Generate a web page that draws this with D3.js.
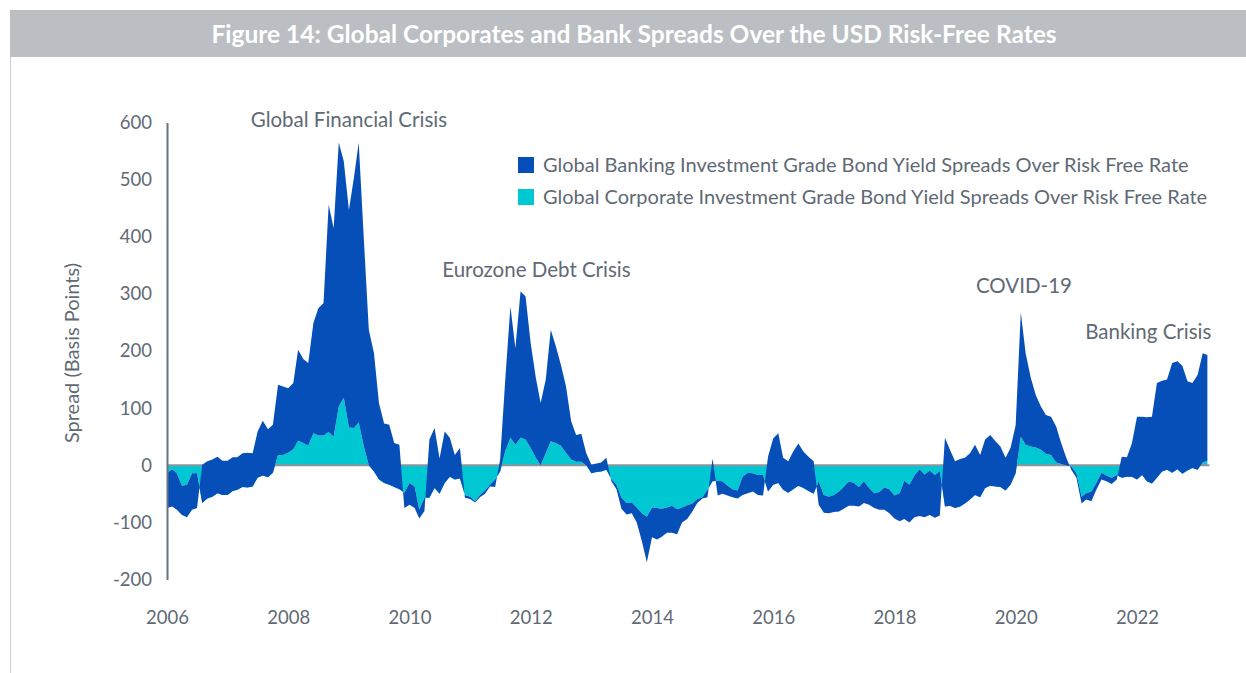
<!DOCTYPE html>
<html>
<head>
<meta charset="utf-8">
<script src="https://cdn.jsdelivr.net/npm/d3@7"></script>
<style>
  body { margin: 0; background: #fff; }
  text { font-family: Lato, "Noto Sans", sans-serif; }
</style>
</head>
<body>
<script>
// monthly observations, Jan 2006 .. Mar 2023
var startDate = new Date(2006, 0, 1);

// Global corporate IG spread over risk-free (bp)
var corpSpread = [
  -14, -7, -14, -36, -34, -14, -14, -66, -58, -55, -49, -52,   // 2006
  -52, -45, -43, -38, -39, -37, -22, -18, -21, -13, 18, 18,     // 2007
  22, 28, 43, 39, 34, 56, 52, 52, 58, 50, 103, 118,             // 2008
  66, 65, 75, 33, 0, -11, -25, -31, -34, -38, -42, -48,         // 2009
  -31, -37, -78, -57, -57, -40, -50, -31, -20, -25, -23, -52,   // 2010
  -55, -63, -52, -44, -34, -25, -11, 25, 48, 36, 48, 45,        // 2011
  30, 13, 0, 21, 42, 39, 34, 22, 10, 6, 6, 0,                   // 2012
  -14, -12, -11, -8, -24, -34, -57, -66, -65, -74, -84, -90,    // 2013
  -74, -75, -76, -74, -71, -77, -74, -70, -67, -59, -56, -43,   // 2014
  -28, -27, -28, -36, -42, -44, -20, -13, -14, -17, -17, -46,   // 2015
  -34, -31, -43, -48, -42, -36, -40, -45, -50, -28, -52, -55,   // 2016
  -52, -46, -38, -28, -31, -38, -28, -40, -49, -47, -39, -42,   // 2017
  -53, -49, -27, -34, -18, -7, -16, -9, -17, -10, -72, -71,     // 2018
  -75, -72, -67, -60, -52, -56, -40, -36, -37, -38, -44, -34,   // 2019
  -14, 50, 36, 33, 31, 27, 20, 18, 5, 2, 0, -2,                 // 2020
  -14, -55, -49, -46, -31, -13, -18, -22, -17, -22, -20, -20,   // 2021
  -25, -17, -28, -32, -22, -11, -8, -13, -7, -15, -9, -5,       // 2022
  -8, 5, 8                                                      // 2023
];

// Global banking IG spread over risk-free (bp)
var bankSpread = [
  -75, -72, -78, -87, -91, -78, -75, 1, 7, 10, 15, 8,
  8, 14, 14, 21, 22, 21, 59, 78, 63, 71, 141, 138,
  135, 144, 202, 186, 179, 249, 275, 284, 456, 415, 565, 532,
  447, 505, 565, 395, 237, 196, 109, 73, 71, 39, 36, -75,
  -69, -75, -93, -80, 45, 65, 12, 59, 48, 18, 30, -57,
  -59, -65, -56, -50, -37, -38, 10, 150, 278, 205, 304, 296,
  214, 153, 109, 150, 237, 208, 176, 138, 77, 53, 55, 21,
  1, 3, 5, 13, -28, -42, -76, -86, -84, -100, -133, -170,
  -126, -130, -125, -118, -118, -121, -100, -94, -81, -66, -58, -56,
  12, -53, -50, -53, -56, -58, -52, -49, -46, -52, -53, 15,
  47, 56, 13, 7, 24, 38, 24, 15, 7, -69, -83, -84,
  -82, -81, -76, -71, -71, -72, -66, -69, -75, -78, -78, -84,
  -93, -98, -94, -100, -91, -89, -91, -87, -92, -88, 48, 27,
  7, 11, 13, 21, 36, 18, 45, 53, 42, 33, 13, 30,
  70, 268, 196, 153, 123, 103, 88, 85, 68, 39, 13, -8,
  -22, -67, -60, -63, -43, -25, -28, -33, -25, 15, 14, 38,
  85, 85, 84, 85, 144, 148, 150, 179, 182, 174, 147, 144,
  158, 196, 193
];

var yTicks = [-200, -100, 0, 100, 200, 300, 400, 500, 600];
var xTickYears = [2006, 2008, 2010, 2012, 2014, 2016, 2018, 2020, 2022];

var legendLabels = [
  "Global Banking Investment Grade Bond Yield Spreads Over Risk Free Rate",
  "Global Corporate Investment Grade Bond Yield Spreads Over Risk Free Rate"
];
var legendColors = ["#074fb8", "#00c8d3"];

var eventNames = ["Global Financial Crisis", "Eurozone Debt Crisis", "COVID-19", "Banking Crisis"];
var eventDates = [new Date(2009, 0, 1), new Date(2012, 1, 5), new Date(2020, 1, 20), new Date(2022, 2, 10)];
var eventLevels = [604, 342, 314, 233];

var titleText = "Figure 14: Global Corporates and Bank Spreads Over the USD Risk-Free Rates";

var width = 1246, height = 673;
var textColor = "#5f6a74";

var svg = d3.select("body").append("svg")
  .attr("width", width)
  .attr("height", height);

// title bar + frame line
svg.append("rect")
  .attr("x", 10).attr("y", 10)
  .attr("width", width - 10).attr("height", 47)
  .attr("fill", "#bbbec3");
svg.append("line")
  .attr("x1", 10.5).attr("x2", 10.5)
  .attr("y1", 57).attr("y2", height)
  .attr("stroke", "#c9cbcf").attr("stroke-width", 1);
svg.append("text")
  .attr("x", 634).attr("y", 34)
  .attr("dy", "0.35em")
  .attr("text-anchor", "middle")
  .attr("fill", "#fff")
  .style("font-size", "24.5px")
  .style("font-weight", "bold")
  .text(titleText);

var x = d3.scaleTime()
  .domain([new Date(2006, 0, 1), new Date(2022, 0, 1)])
  .range([167, 1137]);
var y = d3.scaleLinear()
  .domain([-200, 600])
  .range([579.5, 122.5]);

var data = corpSpread.map(function (c, i) {
  return { date: d3.timeMonth.offset(startDate, i), corp: c, bank: bankSpread[i] };
});

// corporate spread: area from zero
var corpArea = d3.area()
  .x(function (d) { return x(d.date); })
  .y0(y(0))
  .y1(function (d) { return y(d.corp); });

// banking spread: band between the corporate and banking lines
var bankArea = d3.area()
  .x(function (d) { return x(d.date); })
  .y0(function (d) { return y(d.corp); })
  .y1(function (d) { return y(d.bank); });

svg.append("path")
  .datum(data)
  .attr("d", corpArea)
  .attr("fill", legendColors[1]);

svg.append("line")
  .attr("x1", x(startDate))
  .attr("x2", x(data[data.length - 1].date) + 2)
  .attr("y1", y(0)).attr("y2", y(0))
  .attr("stroke", "#8d949b")
  .attr("stroke-width", 2);

svg.append("path")
  .datum(data)
  .attr("d", bankArea)
  .attr("fill", legendColors[0]);

// y axis
var yAxis = svg.append("g")
  .attr("transform", "translate(167,0)")
  .call(d3.axisLeft(y).tickValues(yTicks)
    .tickFormat(function (d) { return String(d); })
    .tickSize(0).tickSizeOuter(0).tickPadding(15));
yAxis.select(".domain").attr("stroke", "#6b737c").attr("stroke-width", 2);
yAxis.selectAll("text")
  .attr("fill", textColor)
  .style("font-size", "18.5px")
  .style("font-family", "Lato, 'Noto Sans', sans-serif");

// x axis (labels only)
var xAxis = svg.append("g")
  .attr("transform", "translate(0,611)")
  .call(d3.axisBottom(x)
    .tickValues(xTickYears.map(function (yr) { return new Date(yr, 0, 1); }))
    .tickFormat(d3.timeFormat("%Y"))
    .tickSize(0).tickPadding(0));
xAxis.select(".domain").remove();
xAxis.selectAll("text")
  .attr("fill", textColor)
  .style("font-size", "18.5px")
  .style("font-family", "Lato, 'Noto Sans', sans-serif");

// y axis title
svg.append("text")
  .attr("transform", "translate(72,353) rotate(-90)")
  .attr("text-anchor", "middle")
  .attr("dy", "0.35em")
  .attr("fill", textColor)
  .style("font-size", "20px")
  .text("Spread (Basis Points)");

// event annotations
svg.selectAll(".event")
  .data(eventNames)
  .enter().append("text")
  .attr("class", "event")
  .attr("x", function (d, i) { return x(eventDates[i]); })
  .attr("y", function (d, i) { return y(eventLevels[i]); })
  .attr("dy", "0.35em")
  .attr("text-anchor", "middle")
  .attr("fill", textColor)
  .style("font-size", "20.5px")
  .text(function (d) { return d; });

// legend
var legend = svg.selectAll(".legend")
  .data(legendLabels)
  .enter().append("g")
  .attr("class", "legend")
  .attr("transform", function (d, i) { return "translate(518," + (165 + i * 32) + ")"; });
legend.append("rect")
  .attr("x", 0).attr("y", -8)
  .attr("width", 16).attr("height", 16)
  .attr("fill", function (d, i) { return legendColors[i]; });
legend.append("text")
  .attr("x", 25)
  .attr("dy", "0.35em")
  .attr("fill", textColor)
  .style("font-size", "20px")
  .text(function (d) { return d; });
</script>
</body>
</html>
